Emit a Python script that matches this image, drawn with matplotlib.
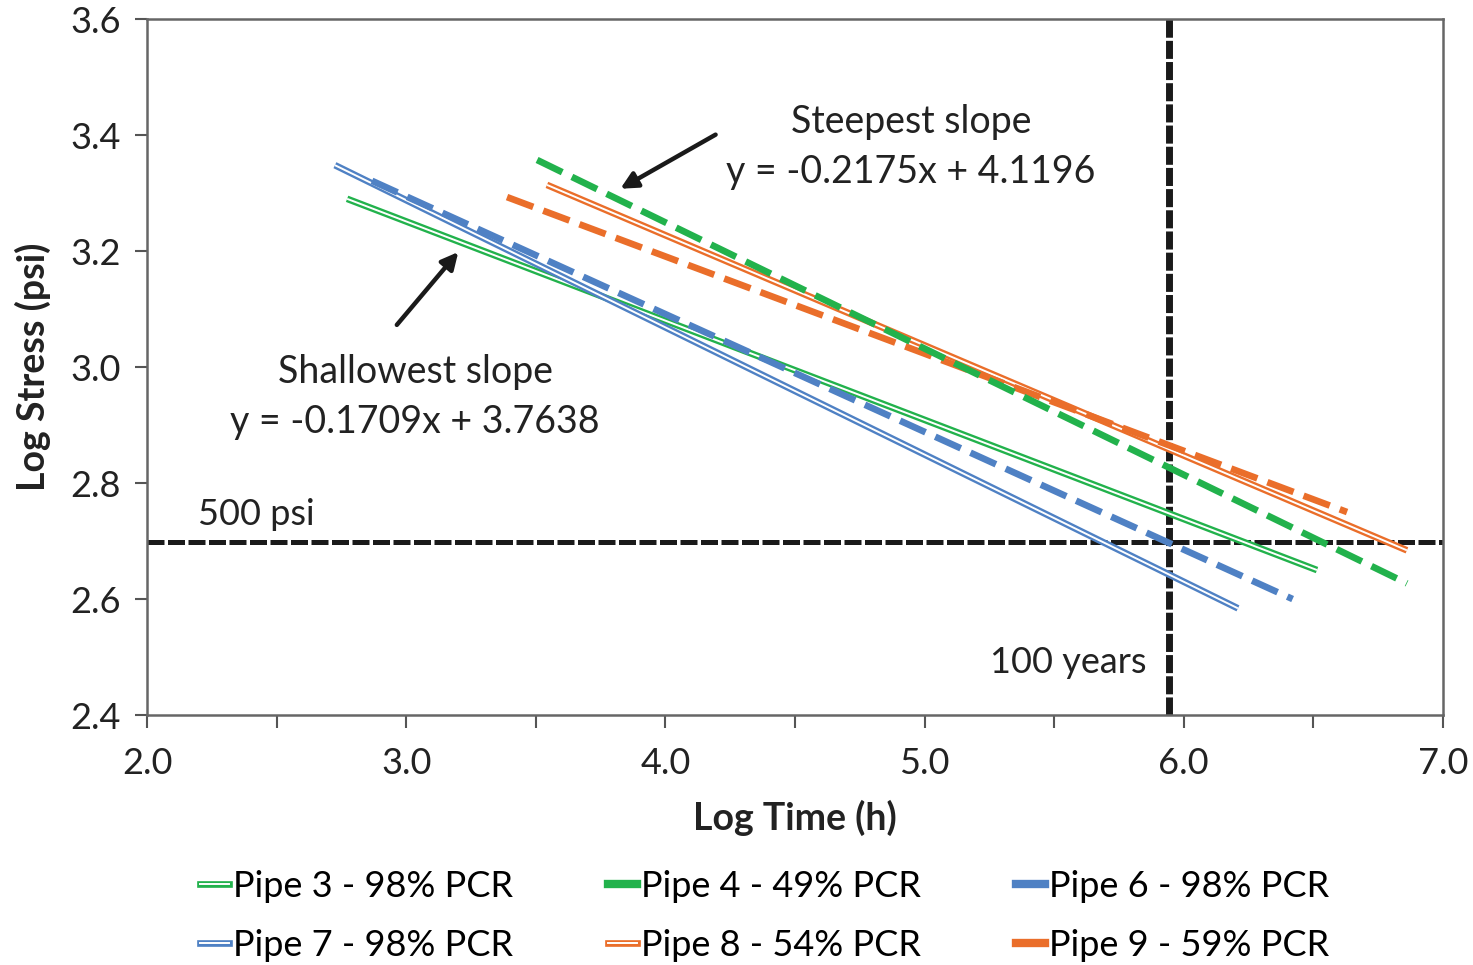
import numpy as np
import matplotlib
matplotlib.use("Agg")
import matplotlib.pyplot as plt
from matplotlib.lines import Line2D

plt.rcParams['font.family'] = ['Lato', 'DejaVu Sans']

# regression lines: (start x, start y, end x, end y)
pipes = ["Pipe 3 - 98% PCR", "Pipe 4 - 49% PCR", "Pipe 6 - 98% PCR",
         "Pipe 7 - 98% PCR", "Pipe 8 - 54% PCR", "Pipe 9 - 59% PCR"]
x_start = [2.772, 3.505, 2.868, 2.725, 3.543, 3.389]
y_start = [3.290, 3.357, 3.321, 3.348, 3.314, 3.293]
x_end = [6.514, 6.861, 6.420, 6.209, 6.861, 6.630]
y_end = [2.650, 2.627, 2.600, 2.584, 2.684, 2.750]
styles = ["double", "dash", "dash", "double", "double", "dash"]

green = '#22b24c'
blue = '#4f81c4'
orange = '#ea6e2a'
colors = [green, green, blue, blue, orange, orange]

stress_500 = np.log10(500)
time_100y = np.log10(100 * 365 * 24)

fig = plt.figure(figsize=(14.73, 9.65), dpi=100)
ax = fig.add_axes([0.0998, 0.259, 0.8798, 0.7213])

# reference lines
ax.plot([2.0, 7.0], [stress_500, stress_500], color='#1a1a1a', lw=3.6,
        dashes=(3.4, 0.7), zorder=2)
ax.plot([time_100y, time_100y], [2.4, 3.6], color='#1a1a1a', lw=5,
        dashes=(2.6, 0.45), zorder=2)

# draw in order so layering resembles the original
order = [0, 3, 2, 5, 4, 1]
handles = {}
for i in order:
    xs = [x_start[i], x_end[i]]
    ys = [y_start[i], y_end[i]]
    if styles[i] == "double":
        ax.plot(xs, ys, color=colors[i], lw=4.8, solid_capstyle='butt', zorder=3)
        ax.plot(xs, ys, color='white', lw=1.4, solid_capstyle='butt', zorder=3)
        h = (Line2D([], [], color=colors[i], lw=4.8),
             Line2D([], [], color='white', lw=1.4))
    else:
        ax.plot(xs, ys, color=colors[i], lw=4.8, dashes=(4.2, 1.6), zorder=4)
        h = Line2D([], [], color=colors[i], lw=6)
    handles[i] = h

ax.set_xlim(2.0, 7.0)
ax.set_ylim(2.4, 3.6)
ax.set_xticks(np.arange(2.0, 7.01, 0.5))
ax.set_xticklabels(["2.0", "", "3.0", "", "4.0", "", "5.0", "", "6.0", "", "7.0"])
ax.set_yticks(np.arange(2.4, 3.61, 0.2))
ax.set_yticklabels(["2.4", "2.6", "2.8", "3.0", "3.2", "3.4", "3.6"])
ax.tick_params(direction='out', length=9, width=1.5, color='#555555',
               labelsize=26, labelcolor='#222222')
ax.tick_params(axis='x', pad=14)
ax.tick_params(axis='y', pad=10)
for s in ax.spines.values():
    s.set_color('#666666')
    s.set_linewidth(1.8)

ax.set_xlabel("Log Time (h)", fontsize=27, fontweight='bold', color='#222222',
              labelpad=14)
ax.set_ylabel("Log Stress (psi)", fontsize=27, fontweight='bold', color='#222222',
              labelpad=14)

txt = dict(fontsize=27, color='#222222', ha='center', va='center')
ax.text(4.948, 3.422, "Steepest slope", **txt)
ax.text(4.948, 3.336, "y = -0.2175x + 4.1196", **txt)
ax.text(3.034, 2.991, "Shallowest slope", **txt)
ax.text(3.034, 2.905, "y = -0.1709x + 3.7638", **txt)
ax.text(2.197, 2.745, "500 psi", fontsize=26, color='#222222', ha='left', va='center')
ax.text(5.858, 2.491, "100 years", fontsize=26, color='#222222', ha='right', va='center')

arrow = dict(arrowstyle='-|>,head_length=1.0,head_width=0.5', color='#1a1a1a', lw=3.2)
ax.annotate("", xy=(3.817, 3.305), xytext=(4.203, 3.403), arrowprops=arrow)
ax.annotate("", xy=(3.208, 3.202), xytext=(2.957, 3.069), arrowprops=arrow)

leg_order = [0, 3, 1, 4, 2, 5]
ax.legend([handles[i] for i in leg_order], [pipes[i] for i in leg_order],
          ncol=3, loc='upper left', bbox_to_anchor=(0.041, -0.222),
          frameon=False, fontsize=26, handlelength=0.8, handletextpad=0.1,
          columnspacing=2.65, labelspacing=0.72, borderaxespad=0, borderpad=0)

fig.savefig("out.png", dpi=100)
